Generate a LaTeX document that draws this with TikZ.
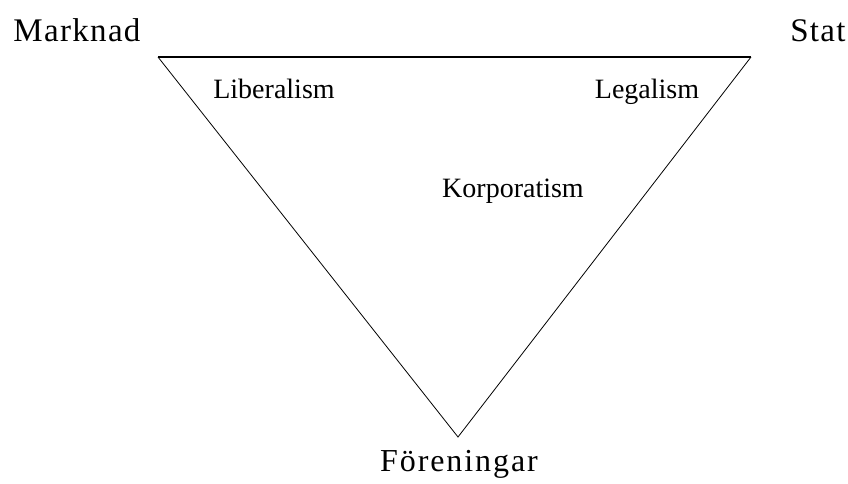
\documentclass[tikz,border=0pt]{standalone}
\usepackage{fontspec}
\setmainfont{Liberation Serif}
\usetikzlibrary{positioning}

\begin{document}
\begin{tikzpicture}[
    x=1pt, y=-1pt,
    corner/.style={inner sep=0pt, font=\fontsize{33}{36}\selectfont\addfontfeature{LetterSpace=4}},
    area/.style={inner sep=0pt, font=\fontsize{28}{32}\selectfont},
    side/.style={line width=0.8pt},
]
\useasboundingbox (0,0) rectangle (848,484);

% Triangle corners
\coordinate (M) at (158,57);
\coordinate (S) at (751,57);
\coordinate (F) at (458,437);

% Triangle
\draw[line width=1.4pt] (M) -- (S);
\draw[side] (S) -- (F) -- (M);

% Corner labels
\node[corner] (marknad) at (77,30) {Marknad};
\node[corner] (stat) at (818,31) {Stat};
\node[corner, font=\fontsize{32}{36}\selectfont\addfontfeature{LetterSpace=6}] (foreningar) at (459,464) {Föreningar};

% Labels inside
\node[area] (liberalism) at (274,89) {Liberalism};
\node[area] (legalism) at (647,92) {Legalism};
\node[area] (korporatism) at (513,191) {Korporatism};

\end{tikzpicture}
\end{document}
